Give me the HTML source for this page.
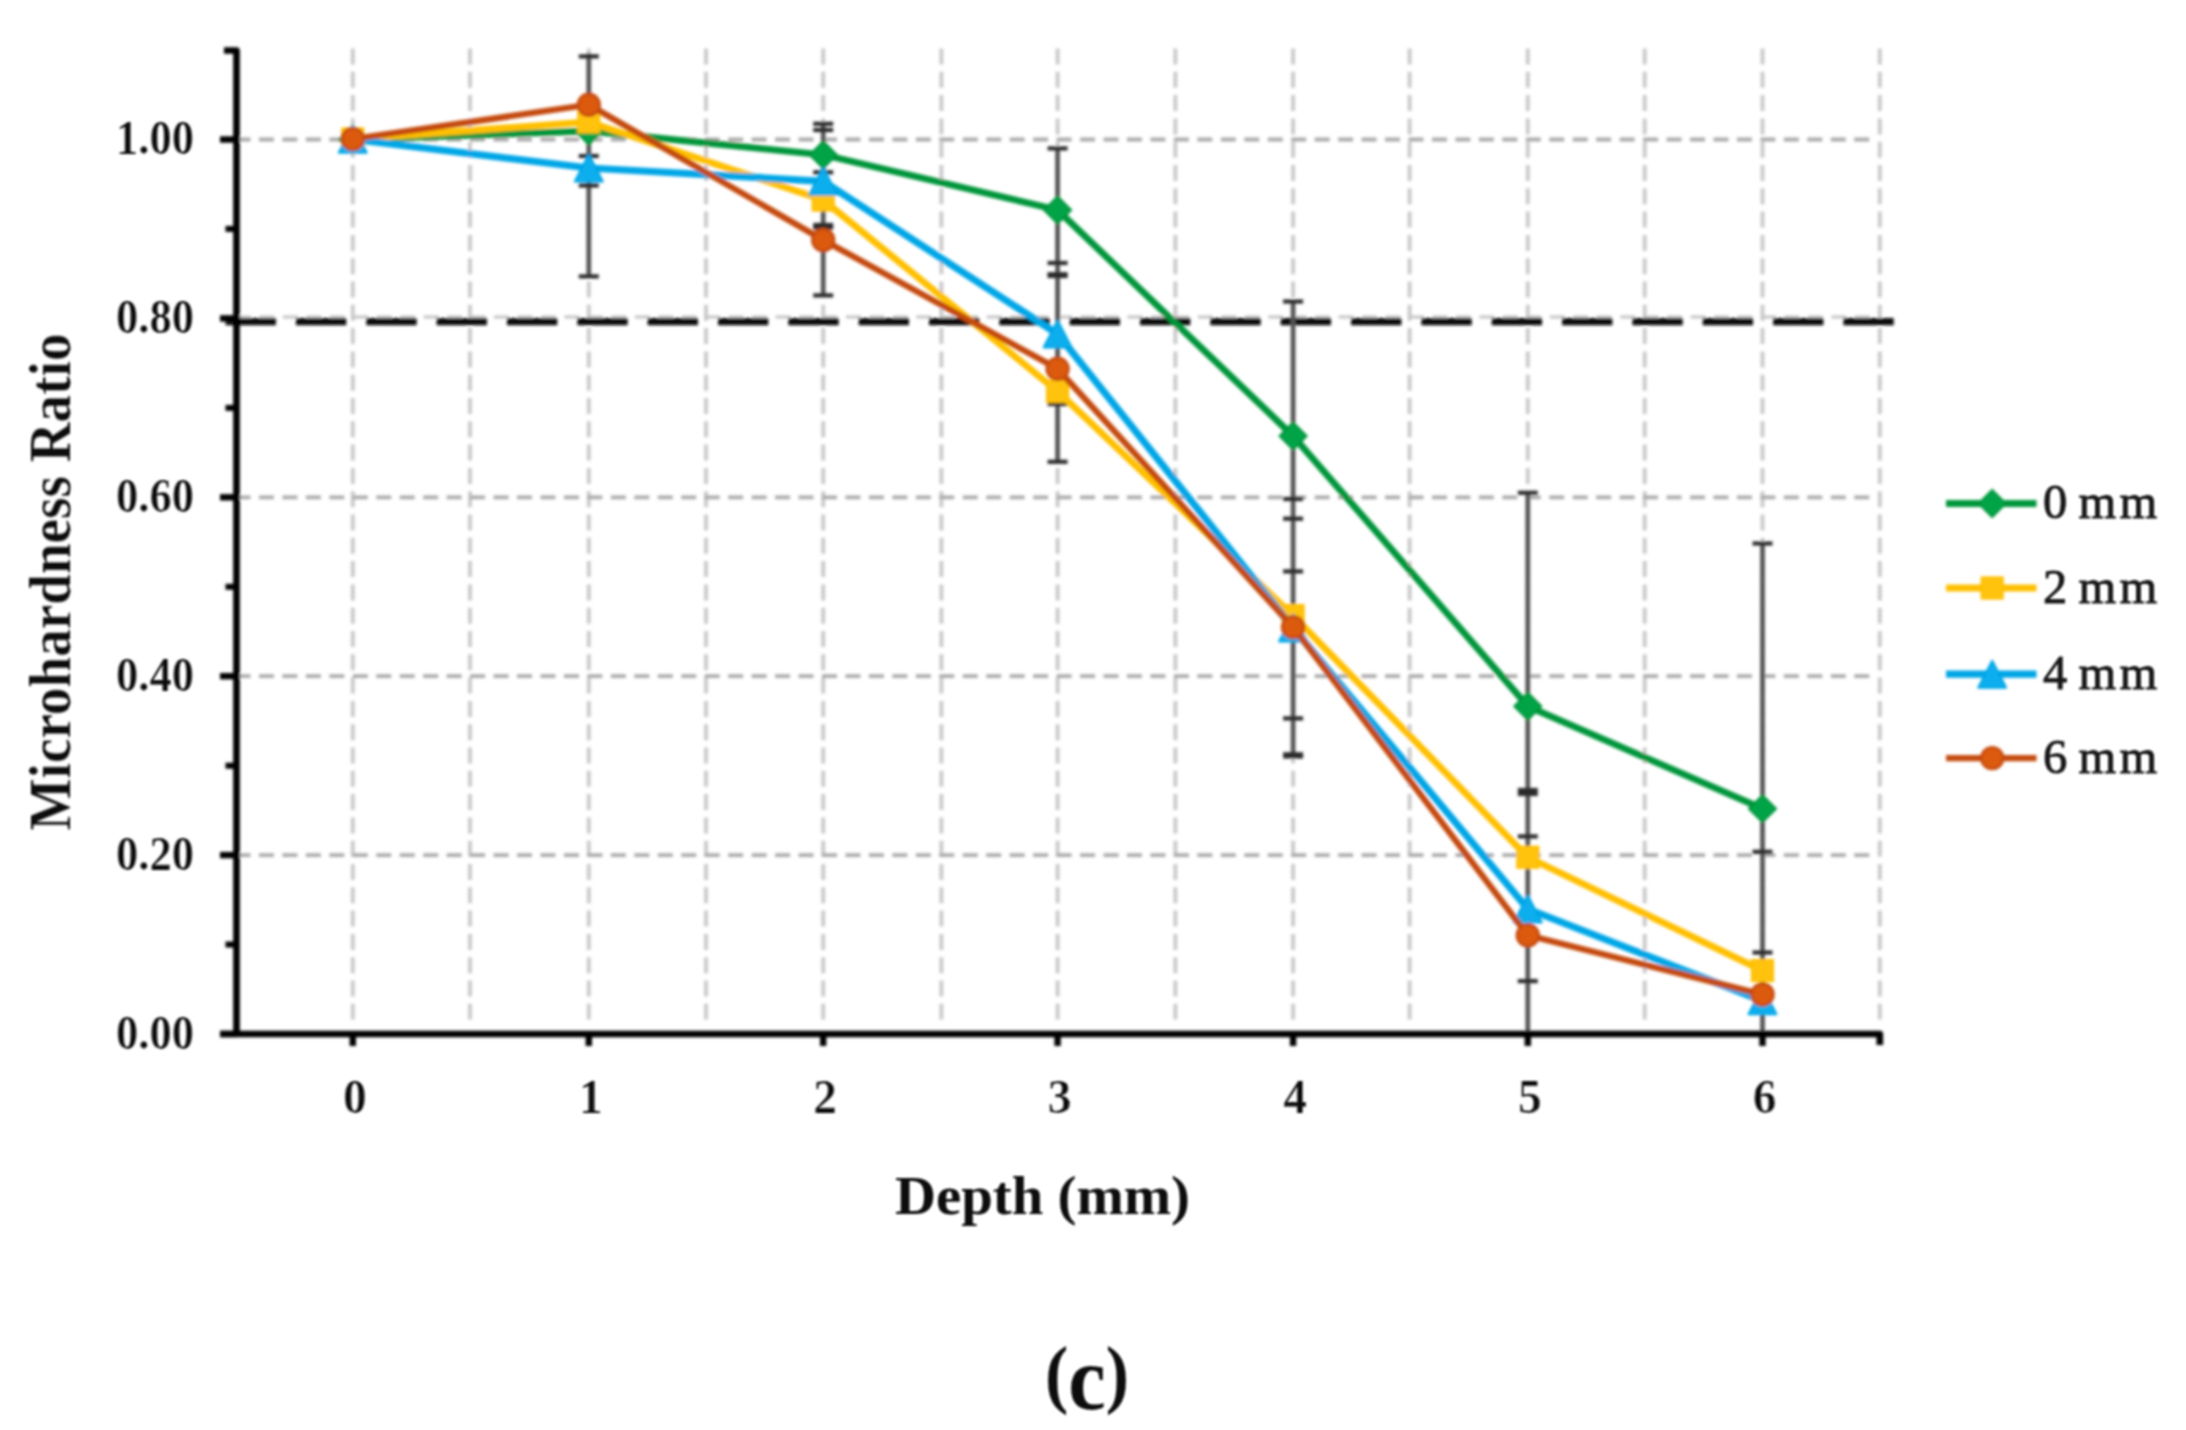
<!DOCTYPE html>
<html lang="en">
<head>
<meta charset="utf-8">
<title>Microhardness Ratio vs Depth (c)</title>
<style>
html,body{margin:0;padding:0;background:#fff;}
body{width:2186px;height:1430px;overflow:hidden;}
svg{display:block;}
.b{font-family:"Liberation Serif",serif;font-weight:bold;fill:#0c0c0c;stroke:#ffffff;stroke-width:0.22px;}
.r{font-family:"Liberation Serif",serif;font-weight:normal;fill:#141414;}
</style>
</head>
<body>
<svg width="2186" height="1430" viewBox="0 0 2186 1430">
<defs><filter id="bl" x="-2%" y="-2%" width="104%" height="104%"><feGaussianBlur stdDeviation="1.45"/></filter><filter id="bt" x="-5%" y="-5%" width="110%" height="110%"><feGaussianBlur stdDeviation="1.15"/></filter></defs>
<rect width="2186" height="1430" fill="#ffffff"/>
<g filter="url(#bl)">
<g stroke="#c9c9c9" stroke-width="3.9" stroke-dasharray="16 7.3" fill="none">
<line x1="352.8" y1="48.5" x2="352.8" y2="1019.5"/>
<line x1="470.0" y1="48.5" x2="470.0" y2="1019.5"/>
<line x1="588.8" y1="48.5" x2="588.8" y2="1019.5"/>
<line x1="706.0" y1="48.5" x2="706.0" y2="1019.5"/>
<line x1="823.2" y1="48.5" x2="823.2" y2="1019.5"/>
<line x1="941.4" y1="48.5" x2="941.4" y2="1019.5"/>
<line x1="1057.6" y1="48.5" x2="1057.6" y2="1019.5"/>
<line x1="1175.4" y1="48.5" x2="1175.4" y2="1019.5"/>
<line x1="1293.1" y1="48.5" x2="1293.1" y2="1019.5"/>
<line x1="1409.6" y1="48.5" x2="1409.6" y2="1019.5"/>
<line x1="1527.8" y1="48.5" x2="1527.8" y2="1019.5"/>
<line x1="1644.7" y1="48.5" x2="1644.7" y2="1019.5"/>
<line x1="1762.5" y1="48.5" x2="1762.5" y2="1019.5"/>
<line x1="1879.8" y1="48.5" x2="1879.8" y2="1019.5"/>
</g>
<g stroke="#ababab" stroke-width="3.8" stroke-dasharray="15 8.46" fill="none">
<line x1="235.5" y1="855.1" x2="1871" y2="855.1"/>
<line x1="235.5" y1="676.2" x2="1871" y2="676.2"/>
<line x1="235.5" y1="497.3" x2="1871" y2="497.3"/>
<line x1="235.5" y1="139.5" x2="1871" y2="139.5"/>
<line x1="236" y1="316.9" x2="1872" y2="316.9" stroke="#c4c4c4" stroke-width="3"/>
</g>
<line x1="225.6" y1="321.6" x2="1894" y2="321.6" stroke="#0a0a0a" stroke-width="7.2" stroke-dasharray="50.3 20.04" fill="none"/>
<g stroke="#525252" stroke-width="4.7" fill="none">
<line x1="588.8" y1="53" x2="588.8" y2="276.4"/>
<line x1="578.8" y1="56.4" x2="598.8" y2="56.4" stroke="#2a2a2a" stroke-width="4.2"/>
<line x1="578.8" y1="156" x2="598.8" y2="156" stroke="#2a2a2a" stroke-width="4.2"/>
<line x1="578.8" y1="185.5" x2="598.8" y2="185.5" stroke="#2a2a2a" stroke-width="4.2"/>
<line x1="578.8" y1="276.4" x2="598.8" y2="276.4" stroke="#2a2a2a" stroke-width="4.2"/>
<line x1="823.2" y1="121.5" x2="823.2" y2="295.4"/>
<line x1="813.2" y1="123.8" x2="833.2" y2="123.8" stroke="#2a2a2a" stroke-width="4.2"/>
<line x1="813.2" y1="130" x2="833.2" y2="130" stroke="#2a2a2a" stroke-width="4.2"/>
<line x1="813.2" y1="172.3" x2="833.2" y2="172.3" stroke="#2a2a2a" stroke-width="4.2"/>
<line x1="813.2" y1="225" x2="833.2" y2="225" stroke="#2a2a2a" stroke-width="4.2"/>
<line x1="813.2" y1="227.5" x2="833.2" y2="227.5" stroke="#2a2a2a" stroke-width="4.2"/>
<line x1="813.2" y1="295.4" x2="833.2" y2="295.4" stroke="#2a2a2a" stroke-width="4.2"/>
<line x1="1057.6" y1="148.4" x2="1057.6" y2="461.8"/>
<line x1="1047.6" y1="148.4" x2="1067.6" y2="148.4" stroke="#2a2a2a" stroke-width="4.2"/>
<line x1="1047.6" y1="263" x2="1067.6" y2="263" stroke="#2a2a2a" stroke-width="4.2"/>
<line x1="1047.6" y1="274.2" x2="1067.6" y2="274.2" stroke="#2a2a2a" stroke-width="4.2"/>
<line x1="1047.6" y1="276" x2="1067.6" y2="276" stroke="#2a2a2a" stroke-width="4.2"/>
<line x1="1047.6" y1="404" x2="1067.6" y2="404" stroke="#2a2a2a" stroke-width="4.2"/>
<line x1="1047.6" y1="461.8" x2="1067.6" y2="461.8" stroke="#2a2a2a" stroke-width="4.2"/>
<line x1="1293.1" y1="301.5" x2="1293.1" y2="755.3"/>
<line x1="1283.1" y1="301.5" x2="1303.1" y2="301.5" stroke="#2a2a2a" stroke-width="4.2"/>
<line x1="1283.1" y1="499" x2="1303.1" y2="499" stroke="#2a2a2a" stroke-width="4.2"/>
<line x1="1283.1" y1="518.7" x2="1303.1" y2="518.7" stroke="#2a2a2a" stroke-width="4.2"/>
<line x1="1283.1" y1="571.4" x2="1303.1" y2="571.4" stroke="#2a2a2a" stroke-width="4.2"/>
<line x1="1283.1" y1="718.4" x2="1303.1" y2="718.4" stroke="#2a2a2a" stroke-width="4.2"/>
<line x1="1283.1" y1="754.3" x2="1303.1" y2="754.3" stroke="#2a2a2a" stroke-width="4.2"/>
<line x1="1283.1" y1="756.5" x2="1303.1" y2="756.5" stroke="#2a2a2a" stroke-width="4.2"/>
<line x1="1527.8" y1="492.8" x2="1527.8" y2="1033"/>
<line x1="1517.8" y1="492.8" x2="1537.8" y2="492.8" stroke="#2a2a2a" stroke-width="4.2"/>
<line x1="1517.8" y1="790" x2="1537.8" y2="790" stroke="#2a2a2a" stroke-width="4.2"/>
<line x1="1517.8" y1="794" x2="1537.8" y2="794" stroke="#2a2a2a" stroke-width="4.2"/>
<line x1="1517.8" y1="836.4" x2="1537.8" y2="836.4" stroke="#2a2a2a" stroke-width="4.2"/>
<line x1="1517.8" y1="981.1" x2="1537.8" y2="981.1" stroke="#2a2a2a" stroke-width="4.2"/>
<line x1="1762.5" y1="543.5" x2="1762.5" y2="1033"/>
<line x1="1752.5" y1="543.5" x2="1772.5" y2="543.5" stroke="#2a2a2a" stroke-width="4.2"/>
<line x1="1752.5" y1="851.8" x2="1772.5" y2="851.8" stroke="#2a2a2a" stroke-width="4.2"/>
<line x1="1752.5" y1="952.5" x2="1772.5" y2="952.5" stroke="#2a2a2a" stroke-width="4.2"/>
</g>
<polyline points="352.8,139.5 588.8,131.0 823.2,154.8 1057.6,210.0 1293.1,436.0 1527.8,706.3 1762.5,808.7" fill="none" stroke="#00953b" stroke-width="6.8" stroke-linejoin="round" stroke-linecap="round"/>
<path d="M352.8 126.0L366.3 139.5L352.8 153.0L339.3 139.5Z" fill="#00a446" stroke="#00953b" stroke-width="2"/>
<path d="M588.8 117.5L602.3 131.0L588.8 144.5L575.3 131.0Z" fill="#00a446" stroke="#00953b" stroke-width="2"/>
<path d="M823.2 141.3L836.7 154.8L823.2 168.3L809.7 154.8Z" fill="#00a446" stroke="#00953b" stroke-width="2"/>
<path d="M1057.6 196.5L1071.1 210.0L1057.6 223.5L1044.1 210.0Z" fill="#00a446" stroke="#00953b" stroke-width="2"/>
<path d="M1293.1 422.5L1306.6 436.0L1293.1 449.5L1279.6 436.0Z" fill="#00a446" stroke="#00953b" stroke-width="2"/>
<path d="M1527.8 692.8L1541.3 706.3L1527.8 719.8L1514.3 706.3Z" fill="#00a446" stroke="#00953b" stroke-width="2"/>
<path d="M1762.5 795.2L1776.0 808.7L1762.5 822.2L1749.0 808.7Z" fill="#00a446" stroke="#00953b" stroke-width="2"/>
<polyline points="352.8,139.0 588.8,121.9 823.2,200.0 1057.6,391.3 1293.1,615.6 1527.8,857.3 1762.5,970.6" fill="none" stroke="#ffbf00" stroke-width="6.8" stroke-linejoin="round" stroke-linecap="round"/>
<rect x="342.2" y="128.4" width="21.2" height="21.2" fill="#ffc20a" stroke="#ffbf00" stroke-width="2"/>
<rect x="578.2" y="111.3" width="21.2" height="21.2" fill="#ffc20a" stroke="#ffbf00" stroke-width="2"/>
<rect x="812.6" y="189.4" width="21.2" height="21.2" fill="#ffc20a" stroke="#ffbf00" stroke-width="2"/>
<rect x="1047.0" y="380.7" width="21.2" height="21.2" fill="#ffc20a" stroke="#ffbf00" stroke-width="2"/>
<rect x="1282.5" y="605.0" width="21.2" height="21.2" fill="#ffc20a" stroke="#ffbf00" stroke-width="2"/>
<rect x="1517.2" y="846.7" width="21.2" height="21.2" fill="#ffc20a" stroke="#ffbf00" stroke-width="2"/>
<rect x="1751.9" y="960.0" width="21.2" height="21.2" fill="#ffc20a" stroke="#ffbf00" stroke-width="2"/>
<polyline points="352.8,139.3 588.8,168.0 823.2,181.3 1057.6,334.0 1293.1,628.0 1527.8,909.0 1762.5,1000.8" fill="none" stroke="#00a6e6" stroke-width="7.2" stroke-linejoin="round" stroke-linecap="round"/>
<path d="M352.8 125.8L366.8 152.8L338.8 152.8Z" fill="#08aeee" stroke="#00a6e6" stroke-width="2" stroke-linejoin="round"/>
<path d="M588.8 154.5L602.8 181.5L574.8 181.5Z" fill="#08aeee" stroke="#00a6e6" stroke-width="2" stroke-linejoin="round"/>
<path d="M823.2 167.8L837.2 194.8L809.2 194.8Z" fill="#08aeee" stroke="#00a6e6" stroke-width="2" stroke-linejoin="round"/>
<path d="M1057.6 320.5L1071.6 347.5L1043.6 347.5Z" fill="#08aeee" stroke="#00a6e6" stroke-width="2" stroke-linejoin="round"/>
<path d="M1293.1 614.5L1307.1 641.5L1279.1 641.5Z" fill="#08aeee" stroke="#00a6e6" stroke-width="2" stroke-linejoin="round"/>
<path d="M1527.8 895.5L1541.8 922.5L1513.8 922.5Z" fill="#08aeee" stroke="#00a6e6" stroke-width="2" stroke-linejoin="round"/>
<path d="M1762.5 987.3L1776.5 1014.3L1748.5 1014.3Z" fill="#08aeee" stroke="#00a6e6" stroke-width="2" stroke-linejoin="round"/>
<polyline points="352.8,139.0 588.8,104.8 823.2,240.0 1057.6,368.8 1293.1,627.2 1527.8,935.3 1762.5,994.5" fill="none" stroke="#c4480c" stroke-width="6.2" stroke-linejoin="round" stroke-linecap="round"/>
<circle cx="352.8" cy="139.0" r="11" fill="#dc5a0e" stroke="#c4480c" stroke-width="2.4"/>
<circle cx="588.8" cy="104.8" r="11" fill="#dc5a0e" stroke="#c4480c" stroke-width="2.4"/>
<circle cx="823.2" cy="240.0" r="11" fill="#dc5a0e" stroke="#c4480c" stroke-width="2.4"/>
<circle cx="1057.6" cy="368.8" r="11" fill="#dc5a0e" stroke="#c4480c" stroke-width="2.4"/>
<circle cx="1293.1" cy="627.2" r="11" fill="#dc5a0e" stroke="#c4480c" stroke-width="2.4"/>
<circle cx="1527.8" cy="935.3" r="11" fill="#dc5a0e" stroke="#c4480c" stroke-width="2.4"/>
<circle cx="1762.5" cy="994.5" r="11" fill="#dc5a0e" stroke="#c4480c" stroke-width="2.4"/>
<g stroke="#050505" stroke-width="6.7" fill="none" stroke-linecap="butt" stroke-linejoin="round">
<path d="M224 50.5H236.5V1037.0"/>
<path d="M220 1034.0H1879.8V1045"/>
<line x1="220" y1="1034.0" x2="236.5" y2="1034.0" stroke-width="6.4"/>
<line x1="225.5" y1="944.5" x2="236.5" y2="944.5" stroke-width="6"/>
<line x1="220" y1="855.1" x2="236.5" y2="855.1" stroke-width="6.4"/>
<line x1="225.5" y1="765.7" x2="236.5" y2="765.7" stroke-width="6"/>
<line x1="220" y1="676.2" x2="236.5" y2="676.2" stroke-width="6.4"/>
<line x1="225.5" y1="586.8" x2="236.5" y2="586.8" stroke-width="6"/>
<line x1="220" y1="497.3" x2="236.5" y2="497.3" stroke-width="6.4"/>
<line x1="225.5" y1="407.9" x2="236.5" y2="407.9" stroke-width="6"/>
<line x1="220" y1="318.4" x2="236.5" y2="318.4" stroke-width="6.4"/>
<line x1="225.5" y1="228.9" x2="236.5" y2="228.9" stroke-width="6"/>
<line x1="220" y1="139.5" x2="236.5" y2="139.5" stroke-width="6.4"/>
<line x1="352.8" y1="1034.0" x2="352.8" y2="1046" stroke-width="6.4"/>
<line x1="588.8" y1="1034.0" x2="588.8" y2="1046" stroke-width="6.4"/>
<line x1="823.2" y1="1034.0" x2="823.2" y2="1046" stroke-width="6.4"/>
<line x1="1057.6" y1="1034.0" x2="1057.6" y2="1046" stroke-width="6.4"/>
<line x1="1293.1" y1="1034.0" x2="1293.1" y2="1046" stroke-width="6.4"/>
<line x1="1527.8" y1="1034.0" x2="1527.8" y2="1046" stroke-width="6.4"/>
<line x1="1762.5" y1="1034.0" x2="1762.5" y2="1046" stroke-width="6.4"/>
</g>
<line x1="1946" y1="503.5" x2="2036.5" y2="503.5" stroke="#00953b" stroke-width="6.8"/>
<path d="M1992.2 490.0L2005.7 503.5L1992.2 517.0L1978.7 503.5Z" fill="#00a446" stroke="#00953b" stroke-width="2"/>
<line x1="1946" y1="588" x2="2036.5" y2="588" stroke="#ffbf00" stroke-width="6.8"/>
<rect x="1981.6" y="577.4" width="21.2" height="21.2" fill="#ffc20a" stroke="#ffbf00" stroke-width="2"/>
<line x1="1946" y1="674.2" x2="2036.5" y2="674.2" stroke="#00a6e6" stroke-width="7.2"/>
<path d="M1992.2 660.7L2006.2 687.7L1978.2 687.7Z" fill="#08aeee" stroke="#00a6e6" stroke-width="2" stroke-linejoin="round"/>
<line x1="1946" y1="758.1" x2="2036.5" y2="758.1" stroke="#c4480c" stroke-width="6.2"/>
<circle cx="1992.2" cy="758.1" r="11" fill="#dc5a0e" stroke="#c4480c" stroke-width="2.4"/>
</g>
<g filter="url(#bt)">
<text class="b" x="116" y="154.0" font-size="48.6" textLength="78" lengthAdjust="spacingAndGlyphs">1.00</text>
<text class="b" x="116" y="332.9" font-size="48.6" textLength="78" lengthAdjust="spacingAndGlyphs">0.80</text>
<text class="b" x="116" y="511.8" font-size="48.6" textLength="78" lengthAdjust="spacingAndGlyphs">0.60</text>
<text class="b" x="116" y="690.7" font-size="48.6" textLength="78" lengthAdjust="spacingAndGlyphs">0.40</text>
<text class="b" x="116" y="869.6" font-size="48.6" textLength="78" lengthAdjust="spacingAndGlyphs">0.20</text>
<text class="b" x="116" y="1048.5" font-size="48.6" textLength="78" lengthAdjust="spacingAndGlyphs">0.00</text>
<text class="b" x="354.8" y="1113" font-size="47.5" text-anchor="middle">0</text>
<text class="b" x="590.8" y="1113" font-size="47.5" text-anchor="middle">1</text>
<text class="b" x="825.2" y="1113" font-size="47.5" text-anchor="middle">2</text>
<text class="b" x="1059.6" y="1113" font-size="47.5" text-anchor="middle">3</text>
<text class="b" x="1295.1" y="1113" font-size="47.5" text-anchor="middle">4</text>
<text class="b" x="1529.8" y="1113" font-size="47.5" text-anchor="middle">5</text>
<text class="b" x="1764.5" y="1113" font-size="47.5" text-anchor="middle">6</text>
<text class="b" style="stroke:none" x="895" y="1214" font-size="55" textLength="295" lengthAdjust="spacingAndGlyphs">Depth (mm)</text>
<text class="b" transform="translate(70 830.5) rotate(-90)" x="0" y="0" font-size="59" textLength="497" lengthAdjust="spacingAndGlyphs">Microhardness Ratio</text>
<text class="b" style="stroke:none" x="1045" y="1409" font-size="92" textLength="84" lengthAdjust="spacingAndGlyphs"><tspan font-size="76" dy="-10.5">(</tspan><tspan dy="10.5">c</tspan><tspan font-size="76" dy="-10.5">)</tspan></text>
<text class="r" x="2043" y="518.0" font-size="48.5" stroke="#141414" stroke-width="0.9">0<tspan dx="-4" letter-spacing="3.2"> mm</tspan></text>
<text class="r" x="2043" y="602.5" font-size="48.5" stroke="#141414" stroke-width="0.9">2<tspan dx="-4" letter-spacing="3.2"> mm</tspan></text>
<text class="r" x="2043" y="688.7" font-size="48.5" stroke="#141414" stroke-width="0.9">4<tspan dx="-4" letter-spacing="3.2"> mm</tspan></text>
<text class="r" x="2043" y="772.6" font-size="48.5" stroke="#141414" stroke-width="0.9">6<tspan dx="-4" letter-spacing="3.2"> mm</tspan></text>
</g>
</svg>
</body>
</html>
